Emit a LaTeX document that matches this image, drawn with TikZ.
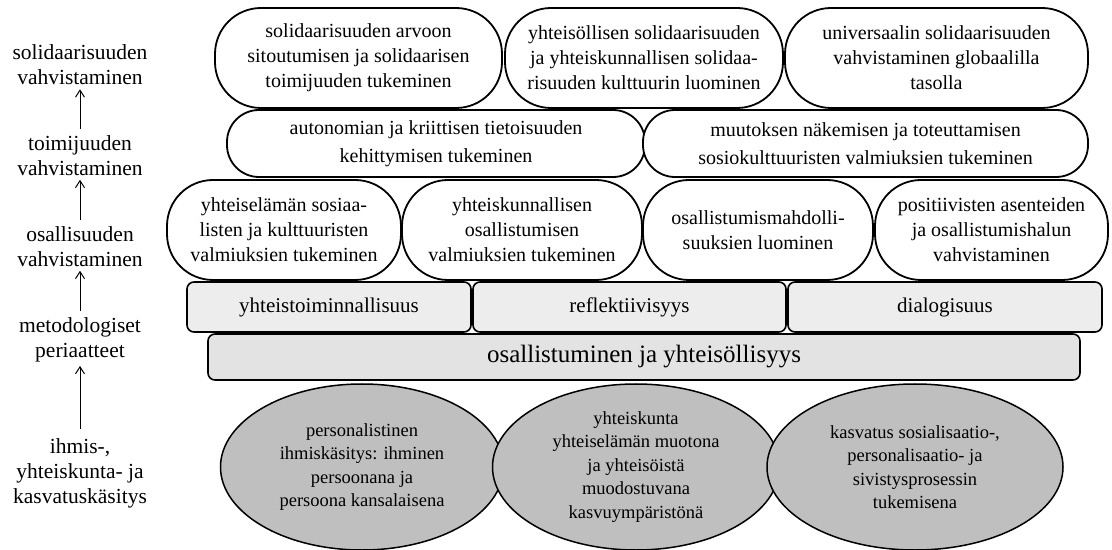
\documentclass[tikz,border=0pt]{standalone}
\usepackage{fontspec}
\setmainfont{Liberation Serif}
\usetikzlibrary{shapes.geometric,arrows.meta}
\begin{document}
\begin{tikzpicture}[x=1bp,y=-1bp,>={Straight Barb[length=7bp,width=9bp]},line join=bevel,
  lbl/.style={align=center,inner sep=1bp,font=\fontsize{21.5bp}{25bp}\selectfont},
  pill/.style={draw,line width=1.8bp,fill=white,align=center,inner sep=0pt,
    rounded corners=46bp,font=\fontsize{20bp}{25bp}\selectfont},
  wide/.style={pill,rounded corners=32bp,font=\fontsize{20bp}{28bp}\selectfont},
  band/.style={draw,line width=1.6bp,fill=black!7,rounded corners=7bp,inner sep=0pt,
    font=\fontsize{21bp}{24bp}\selectfont},
  ground/.style={ellipse,draw,line width=1.5bp,fill=black!25,inner sep=0pt,align=center,
    font=\fontsize{18.5bp}{23.5bp}\selectfont}]
\useasboundingbox (0,0) rectangle (1112,550);
%%
\node (left_0) at (80,65) [lbl] {solidaarisuuden\\vahvistaminen};
\node (left_1) at (80,155.5) [lbl] {toimijuuden\\vahvistaminen};
\node (left_2) at (80,246.5) [lbl] {osallisuuden\\vahvistaminen};
\node (left_3) at (80,339.5) [lbl] {metodologiset\\periaatteet};
\node (left_4) at (80,473) [lbl] {ihmis-,\\yhteiskunta- ja\\kasvatuskäsitys};
%
\draw [black,line width=1bp,->,shorten <=5bp,shorten >=3bp] (left_1) -- (left_0);
\draw [black,line width=1bp,->,shorten <=5bp,shorten >=3bp] (left_2) -- (left_1);
\draw [black,line width=1bp,->,shorten <=5bp,shorten >=3bp] (left_3) -- (left_2);
\draw [black,line width=1bp,->,shorten <=8bp,shorten >=3bp] (left_4) -- (left_3);
%
\node (ell_0) at (362,467) [ground,minimum width=283bp,minimum height=166bp] {personalistinen\\ihmiskäsitys: ihminen\\persoonana ja\\persoona kansalaisena};
\node (ell_1) at (636,467) [ground,minimum width=287bp,minimum height=166bp] {yhteiskunta\\yhteiselämän muotona\\ja yhteisöistä\\muodostuvana\\kasvuympäristönä};
\node (ell_2) at (915,467) [ground,minimum width=296bp,minimum height=166bp] {kasvatus sosialisaatio-,\\personalisaatio- ja\\sivistysprosessin\\tukemisena};
%
\node (base) at (644,357) [band,fill=black!11,minimum width=872bp,minimum height=46bp,font=\fontsize{25bp}{28bp}\selectfont] {osallistuminen ja yhteisöllisyys};
\node (band_0) at (329,307) [band,minimum width=284bp,minimum height=50bp] {yhteistoiminnallisuus};
\node (band_1) at (629.5,307) [band,minimum width=313bp,minimum height=50bp] {reflektiivisyys};
\node (band_2) at (945,307) [band,minimum width=314bp,minimum height=50bp] {dialogisuus};
%
\node (low_0) at (284,230) [pill,minimum width=234bp,minimum height=100bp] {yhteiselämän sosiaa-\\listen ja kulttuuristen\\valmiuksien tukeminen};
\node (low_1) at (522,230) [pill,minimum width=240bp,minimum height=100bp] {yhteiskunnallisen\\osallistumisen\\valmiuksien tukeminen};
\node (low_2) at (758,230) [pill,minimum width=230bp,minimum height=100bp] {osallistumismahdolli-\\suuksien luominen};
\node (low_3) at (991.5,230) [pill,minimum width=233bp,minimum height=100bp] {positiivisten asenteiden\\ja osallistumishalun\\vahvistaminen};
%
\node (mid_0) at (436,143.5) [wide,minimum width=418bp,minimum height=67bp] {autonomian ja kriittisen tietoisuuden\\kehittymisen tukeminen};
\node (mid_1) at (865.5,143.5) [wide,minimum width=445bp,minimum height=67bp] {muutoksen näkemisen ja toteuttamisen\\sosiokulttuuristen valmiuksien tukeminen};
%
\node (top_0) at (358.5,58) [pill,minimum width=287bp,minimum height=100bp] {solidaarisuuden arvoon\\sitoutumisen ja solidaarisen\\toimijuuden tukeminen};
\node (top_1) at (644,58) [pill,minimum width=278bp,minimum height=100bp] {yhteisöllisen solidaarisuuden\\ja yhteiskunnallisen solidaa-\\risuuden kulttuurin luominen};
\node (top_2) at (936.5,58) [pill,minimum width=303bp,minimum height=100bp] {universaalin solidaarisuuden\\vahvistaminen globaalilla\\tasolla};
%
\end{tikzpicture}
\end{document}
